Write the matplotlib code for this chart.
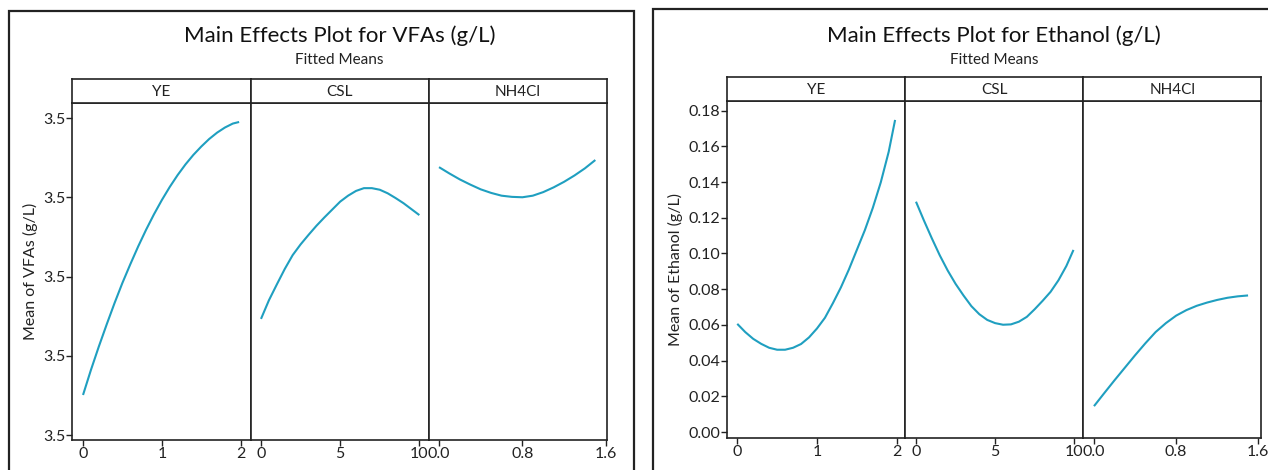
import matplotlib
matplotlib.use("Agg")
import matplotlib.pyplot as plt
from matplotlib.patches import Rectangle
from matplotlib.ticker import FormatStrFormatter

plt.rcParams['font.family'] = ['Lato', 'DejaVu Sans']

# ---------------- data ----------------
factors = ["YE", "CSL", "NH4Cl"]

vfa_ye_x = [0, 0.1, 0.2, 0.3, 0.4, 0.5, 0.6, 0.7, 0.8, 0.9, 1.0,
            1.1, 1.2, 1.3, 1.4, 1.5, 1.6, 1.7, 1.8, 1.9, 1.98]
vfa_ye_y = [3.4701, 3.4764, 3.4823, 3.4879, 3.4933, 3.4984, 3.5031, 3.5076, 3.5118, 3.5157, 3.5193,
            3.5226, 3.5256, 3.5283, 3.5307, 3.5328, 3.5347, 3.5363, 3.5376, 3.5386, 3.5390]
vfa_csl_x = [0, 0.5, 1, 1.5, 2, 2.5, 3, 3.5, 4, 4.5, 5,
             5.5, 6, 6.5, 7, 7.5, 8, 8.5, 9, 9.5, 10]
vfa_csl_y = [3.4893, 3.4940, 3.4980, 3.5019, 3.5054, 3.5081, 3.5105, 3.5128, 3.5149, 3.5169, 3.5189,
             3.5204, 3.5216, 3.5223, 3.5223, 3.5219, 3.5210, 3.5198, 3.5185, 3.5170, 3.5155]
vfa_nh_x = [0.0, 0.1, 0.2, 0.3, 0.4, 0.5, 0.6, 0.7, 0.8,
            0.9, 1.0, 1.1, 1.2, 1.3, 1.4, 1.5]
vfa_nh_y = [3.5276, 3.5260, 3.5245, 3.5232, 3.5220, 3.5211, 3.5204, 3.5201, 3.5200,
            3.5204, 3.5213, 3.5225, 3.5239, 3.5255, 3.5273, 3.5294]

eth_ye_x = [0, 0.1, 0.2, 0.3, 0.4, 0.5, 0.6, 0.7, 0.8, 0.9, 1.0,
            1.1, 1.2, 1.3, 1.4, 1.5, 1.6, 1.7, 1.8, 1.9, 1.98]
eth_ye_y = [0.0606, 0.0560, 0.0522, 0.0494, 0.0472, 0.0461, 0.0461, 0.0472, 0.0493, 0.0530, 0.0580,
            0.0640, 0.0722, 0.0810, 0.0910, 0.1020, 0.1130, 0.1255, 0.1398, 0.1570, 0.1748]
eth_csl_x = [0, 0.5, 1, 1.5, 2, 2.5, 3, 3.5, 4, 4.5, 5,
             5.5, 6, 6.5, 7, 7.5, 8, 8.5, 9, 9.5, 9.95]
eth_csl_y = [0.1290, 0.1185, 0.1085, 0.0990, 0.0905, 0.0830, 0.0765, 0.0705, 0.0660, 0.0628, 0.0610,
             0.0601, 0.0603, 0.0618, 0.0645, 0.0688, 0.0735, 0.0785, 0.0850, 0.0930, 0.1020]
eth_nh_x = [0.0, 0.1, 0.2, 0.3, 0.4, 0.5, 0.6, 0.7, 0.8,
            0.9, 1.0, 1.1, 1.2, 1.3, 1.4, 1.5]
eth_nh_y = [0.0145, 0.0218, 0.0290, 0.0360, 0.0430, 0.0497, 0.0560, 0.0610, 0.0652,
            0.0683, 0.0707, 0.0725, 0.0740, 0.0752, 0.0760, 0.0765]

x_ticks = [[0, 1, 2], [0, 5, 10], [0.0, 0.8, 1.6]]
x_ticklabels = [["0", "1", "2"], ["0", "5", "10"], ["0.0", "0.8", "1.6"]]

vfa_yticks = [3.46, 3.48, 3.50, 3.52, 3.54]
eth_yticks = [0.00, 0.02, 0.04, 0.06, 0.08, 0.10, 0.12, 0.14, 0.16, 0.18]

LINE = "#1f9fc0"
W, H = 1268, 470

fig = plt.figure(figsize=(W / 100, H / 100), dpi=100)


def fr(x0, y0, x1, y1):
    return [x0 / W, 1 - y1 / H, (x1 - x0) / W, (y1 - y0) / H]


def make_block(left, splits, right, strip_top, strip_bot, ax_bot,
               xlims, ylim, yticks, yfmt, series, ylabel, title, frame):
    fx0, fy0, fx1 = frame
    fig.patches.append(Rectangle((fx0 / W, -0.2), (fx1 - fx0) / W, 1.2 - fy0 / H,
                                 transform=fig.transFigure, fill=False,
                                 lw=1.6, ec="#222222", zorder=0))
    edges = [left] + splits + [right]
    axes = []
    for i in range(3):
        x0, x1 = edges[i], edges[i + 1]
        ax = fig.add_axes(fr(x0, strip_bot, x1, ax_bot))
        xs, ys = series[i]
        ax.plot(xs, ys, color=LINE, lw=1.5, solid_capstyle="butt")
        ax.set_xlim(*xlims[i])
        ax.set_ylim(*ylim)
        ax.set_xticks(x_ticks[i])
        ax.set_xticklabels(x_ticklabels[i])
        for s in ax.spines.values():
            s.set_linewidth(1.2)
            s.set_color("#222222")
        ax.tick_params(axis="x", direction="out", length=4, width=1,
                       labelsize=11.5, pad=1, colors="#222222")
        if i == 0:
            ax.set_yticks(yticks)
            ax.yaxis.set_major_formatter(FormatStrFormatter(yfmt))
            ax.tick_params(axis="y", direction="out", length=4, width=1,
                           labelsize=11.5, pad=1, colors="#222222")
            ax.set_ylabel(ylabel, fontsize=11.5, labelpad=4, color="#222222")
        else:
            ax.set_yticks([])
        sa = fig.add_axes(fr(x0, strip_top, x1, strip_bot))
        sa.set_xticks([])
        sa.set_yticks([])
        for s in sa.spines.values():
            s.set_linewidth(1.2)
            s.set_color("#222222")
        sa.text(0.5, 0.45, factors[i], ha="center", va="center",
                fontsize=11, color="#222222", transform=sa.transAxes)
        axes.append(ax)
    cx = (left + right) / 2 / W
    fig.text(cx, 1 - 36 / H, title, ha="center", va="center",
             fontsize=16, color="#111111")
    fig.text(cx, 1 - 60 / H, "Fitted Means", ha="center", va="center",
             fontsize=11, color="#222222")
    return axes


make_block(72.3, [250.7, 428.7], 607.0, 79, 103, 440,
           [(-0.136, 2.127), (-0.65, 10.59), (-0.099, 1.612)],
           (3.45874, 3.54379), vfa_yticks, "%.1f",
           [(vfa_ye_x, vfa_ye_y), (vfa_csl_x, vfa_csl_y), (vfa_nh_x, vfa_nh_y)],
           "Mean of VFAs (g/L)", "Main Effects Plot for VFAs (g/L)",
           (9, 11, 634.3))

make_block(727.3, [905.3, 1083.3], 1261.0, 77.3, 101, 438.3,
           [(-0.125, 2.108), (-0.676, 10.57), (-0.104, 1.626)],
           (-0.0035, 0.1854), eth_yticks, "%.2f",
           [(eth_ye_x, eth_ye_y), (eth_csl_x, eth_csl_y), (eth_nh_x, eth_nh_y)],
           "Mean of Ethanol (g/L)", "Main Effects Plot for Ethanol (g/L)",
           (652.7, 9.3, 1300))

fig.savefig("out.png", dpi=100)
